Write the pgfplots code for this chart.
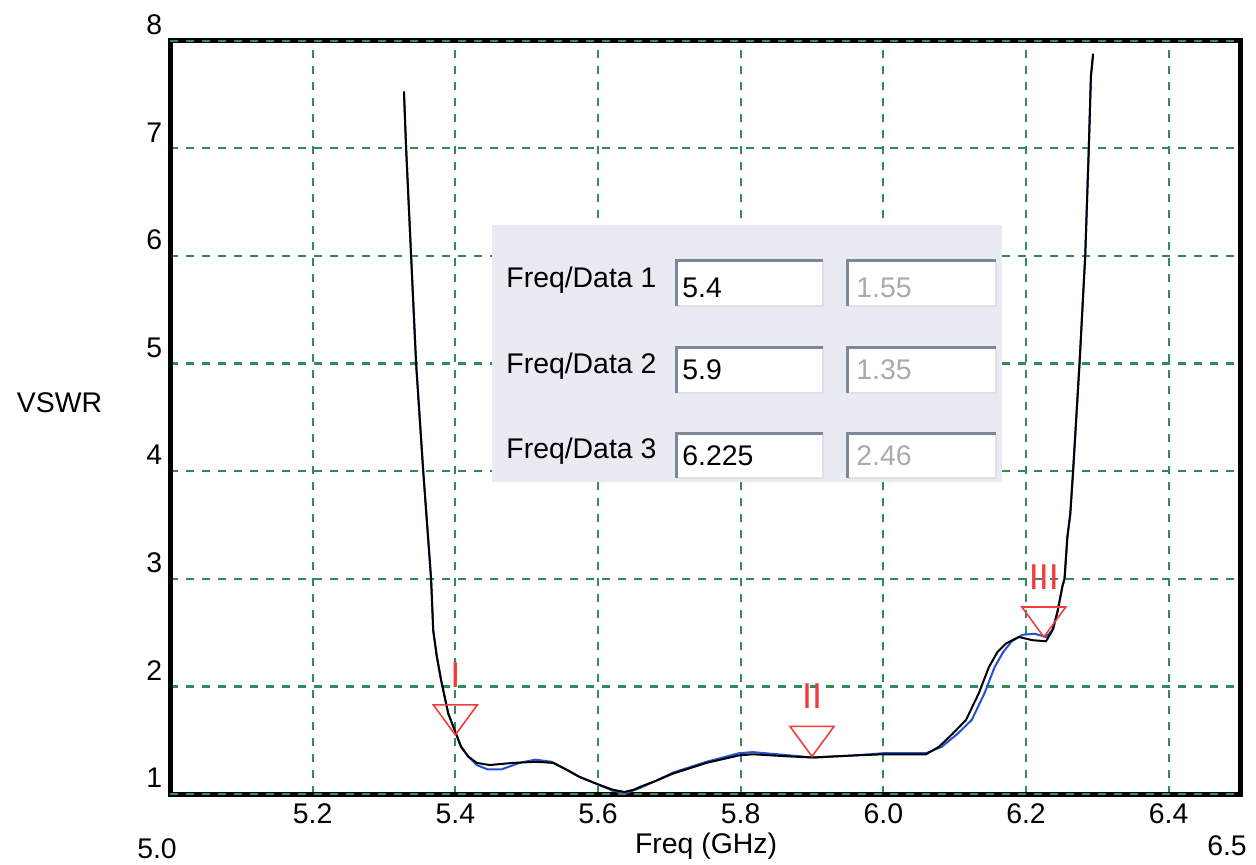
\documentclass[border=0pt]{standalone}
\usepackage{pgfplots}
\pgfplotsset{compat=1.18}
\usepackage{fontspec}
\setmainfont{Liberation Sans}

\definecolor{gridgreen}{RGB}{50,140,90}
\definecolor{curveblue}{RGB}{40,80,210}
\definecolor{mkred}{RGB}{240,60,60}
\definecolor{panel}{RGB}{234,234,243}
\definecolor{fieldedge}{RGB}{125,135,150}
\definecolor{fieldlight}{RGB}{222,224,230}
\definecolor{fieldgray}{RGB}{170,170,170}

\pgfdeclareplotmark{downtri}{%
  \pgfpathmoveto{\pgfpoint{0pt}{0pt}}%
  \pgfpathlineto{\pgfpoint{-11pt}{15pt}}%
  \pgfpathlineto{\pgfpoint{11pt}{15pt}}%
  \pgfpathclose
  \pgfusepathqstroke}

\pgfplotstableread{
x y label
5.4 1.55 I
5.9 1.35 II
6.225 2.46 III
}\markers

\begin{document}
\fontsize{14.2}{17}\selectfont
\begin{tikzpicture}
\begin{axis}[
  scale only axis, width=535pt, height=376.7pt,
  xmin=5, xmax=6.5, ymin=1, ymax=8,
  xtick={5.2,5.4,5.6,5.8,6.0,6.2,6.4},
  ytick={1,2,3,4,5,6,7,8},
  grid=major,
  major grid style={gridgreen, line width=1.1pt, dash pattern=on 4pt off 4pt},
  axis line style={black, line width=2.5pt},
  major tick length=0pt,
  tick style={draw=none},
  /pgf/number format/assume math mode=true,
  x tick label style={/pgf/number format/.cd, fixed, fixed zerofill, precision=1},
  yticklabel style={yshift=8pt, xshift=1pt},
  clip=false,
]
\coordinate (ll) at (rel axis cs:0,0);
\coordinate (lr) at (rel axis cs:1,0);
\coordinate (ur) at (rel axis cs:1,1);

% inset panel
\fill[panel] (axis cs:5.4514,3.900) rectangle (axis cs:6.1664,6.288);
% row 1
\fill[white] (axis cs:5.7101,5.535) rectangle (axis cs:5.9155,5.954);
\fill[white] (axis cs:5.9491,5.535) rectangle (axis cs:6.1573,5.954);
\draw[fieldlight, line width=1pt] (axis cs:5.9155,5.954) |- (axis cs:5.7101,5.535);
\draw[fieldlight, line width=1pt] (axis cs:6.1573,5.954) |- (axis cs:5.9491,5.535);
\draw[fieldedge, line width=1.5pt] (axis cs:5.7101,5.535) |- (axis cs:5.9155,5.954);
\draw[fieldedge, line width=1.5pt] (axis cs:5.9491,5.535) |- (axis cs:6.1573,5.954);
% row 2
\fill[white] (axis cs:5.7101,4.727) rectangle (axis cs:5.9155,5.154);
\fill[white] (axis cs:5.9491,4.727) rectangle (axis cs:6.1573,5.154);
\draw[fieldlight, line width=1pt] (axis cs:5.9155,5.154) |- (axis cs:5.7101,4.727);
\draw[fieldlight, line width=1pt] (axis cs:6.1573,5.154) |- (axis cs:5.9491,4.727);
\draw[fieldedge, line width=1.5pt] (axis cs:5.7101,4.727) |- (axis cs:5.9155,5.154);
\draw[fieldedge, line width=1.5pt] (axis cs:5.9491,4.727) |- (axis cs:6.1573,5.154);
% row 3
\fill[white] (axis cs:5.7101,3.937) rectangle (axis cs:5.9155,4.355);
\fill[white] (axis cs:5.9491,3.937) rectangle (axis cs:6.1573,4.355);
\draw[fieldlight, line width=1pt] (axis cs:5.9155,4.355) |- (axis cs:5.7101,3.937);
\draw[fieldlight, line width=1pt] (axis cs:6.1573,4.355) |- (axis cs:5.9491,3.937);
\draw[fieldedge, line width=1.5pt] (axis cs:5.7101,3.937) |- (axis cs:5.9155,4.355);
\draw[fieldedge, line width=1.5pt] (axis cs:5.9491,3.937) |- (axis cs:6.1573,4.355);

\node[anchor=west, inner sep=0pt] at (axis cs:5.4711,5.777) {Freq/Data 1};
\node[anchor=west, inner sep=0pt] at (axis cs:5.4711,4.978) {Freq/Data 2};
\node[anchor=west, inner sep=0pt] at (axis cs:5.4711,4.188) {Freq/Data 3};
\node[anchor=west, inner sep=0pt] at (axis cs:5.7178,5.703) {5.4};
\node[anchor=west, inner sep=0pt] at (axis cs:5.7178,4.941) {5.9};
\node[anchor=west, inner sep=0pt] at (axis cs:5.7178,4.141) {6.225};
\node[anchor=west, inner sep=0pt, text=fieldgray] at (axis cs:5.9617,5.703) {1.55};
\node[anchor=west, inner sep=0pt, text=fieldgray] at (axis cs:5.9617,4.941) {1.35};
\node[anchor=west, inner sep=0pt, text=fieldgray] at (axis cs:5.9617,4.141) {2.46};

% blue trace
\addplot[curveblue, line width=1pt] coordinates {
(5.328,7.50) (5.331,7.00) (5.338,6.00) (5.345,5.00) (5.355,4.00) (5.366,3.00)
(5.369,2.52) (5.374,2.28) (5.380,2.06) (5.390,1.75) (5.401,1.56) (5.408,1.44)
(5.418,1.35) (5.430,1.27) (5.445,1.23) (5.465,1.23) (5.490,1.29) (5.512,1.32)
(5.535,1.30) (5.555,1.23) (5.574,1.16) (5.600,1.09) (5.621,1.03) (5.640,1.01)
(5.660,1.06) (5.680,1.12) (5.705,1.20) (5.752,1.30) (5.798,1.38) (5.817,1.39)
(5.868,1.36) (5.901,1.34) (5.962,1.36) (6.000,1.38) (6.060,1.38) (6.082,1.44)
(6.104,1.56) (6.124,1.69) (6.142,1.94) (6.156,2.18) (6.168,2.32) (6.180,2.42)
(6.195,2.48) (6.212,2.49) (6.228,2.46) (6.238,2.53) (6.244,2.69) (6.251,2.93)
(6.254,3.00) (6.258,3.39) (6.262,3.60) (6.266,4.00) (6.275,5.00) (6.283,6.00)
(6.288,7.00) (6.291,7.67) (6.294,7.86)
};
% black trace
\addplot[black, line width=1pt] coordinates {
(5.328,7.53) (5.331,7.00) (5.338,6.00) (5.345,5.00) (5.355,4.00) (5.366,3.00)
(5.369,2.52) (5.374,2.28) (5.380,2.06) (5.390,1.75) (5.401,1.56) (5.408,1.44)
(5.418,1.35) (5.430,1.29) (5.448,1.27) (5.481,1.29) (5.514,1.30) (5.537,1.29)
(5.555,1.23) (5.574,1.16) (5.600,1.09) (5.621,1.04) (5.637,1.02) (5.650,1.04)
(5.660,1.07) (5.680,1.12) (5.705,1.19) (5.752,1.29) (5.798,1.36) (5.817,1.37)
(5.868,1.35) (5.901,1.34) (5.962,1.36) (6.000,1.37) (6.060,1.37) (6.078,1.44)
(6.097,1.56) (6.116,1.69) (6.134,1.94) (6.148,2.18) (6.160,2.32) (6.172,2.40)
(6.190,2.46) (6.209,2.43) (6.228,2.42) (6.237,2.52) (6.244,2.69) (6.251,2.93)
(6.254,3.00) (6.258,3.39) (6.262,3.60) (6.266,4.00) (6.275,5.00) (6.283,6.00)
(6.288,7.00) (6.291,7.67) (6.294,7.88)
};
% markers
\addplot[only marks, mark=downtri, mkred, line width=0.8pt,
  point meta=explicit symbolic, nodes near coords,
  nodes near coords style={anchor=center, yshift=30pt, text=mkred,
    font=\fontsize{18}{20}\selectfont}]
  table[x=x, y=y, meta=label] {\markers};

% green dashes over top and bottom frame
\draw[gridgreen, line width=1.1pt, dash pattern=on 4pt off 4pt] (rel axis cs:0,1) -- (rel axis cs:1,1);
\draw[gridgreen, line width=1.1pt, dash pattern=on 4pt off 4pt] (rel axis cs:0,0) -- (rel axis cs:1,0);

\node at ([yshift=-26pt]rel axis cs:0.501,0) {Freq (GHz)};
\node at ([xshift=-55.25pt]rel axis cs:0,0.52) {VSWR};
\end{axis}
\node at ([xshift=-6.5pt,yshift=-27.5pt]ll) {5.0};
\node at ([xshift=-6.5pt,yshift=-26pt]lr) {6.5};
\pgfresetboundingbox
\path[use as bounding box] ([xshift=-85pt,yshift=-35pt]ll) rectangle ([xshift=8pt,yshift=20.35pt]ur);
\end{tikzpicture}
\end{document}
